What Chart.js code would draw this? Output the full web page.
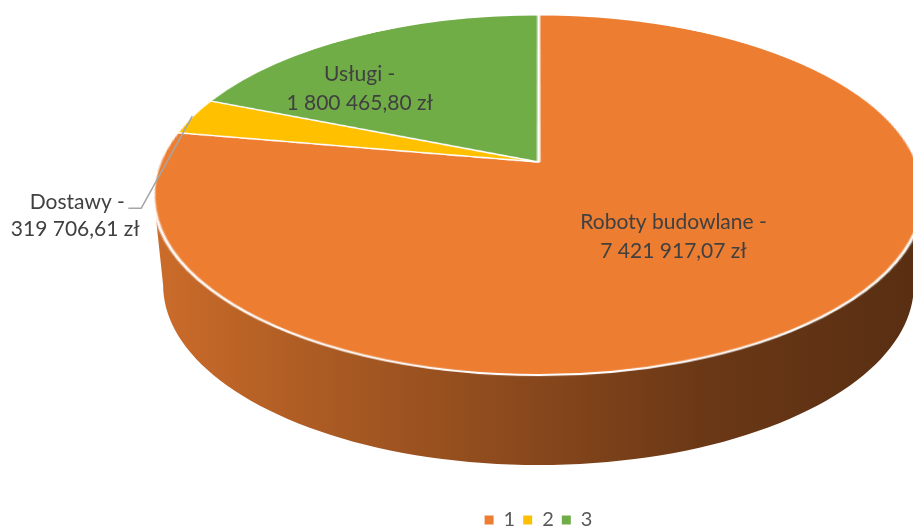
<!DOCTYPE html>
<html>
<head>
<meta charset="utf-8">
<script src="https://cdn.jsdelivr.net/npm/chart.js@4.4.0/dist/chart.umd.min.js"></script>
<style>
  html, body { margin: 0; padding: 0; background: #fff; overflow: hidden; }
  #wrap { width: 913px; height: 532px; }
</style>
</head>
<body>
<div id="wrap"><canvas id="pie" width="913" height="532"></canvas></div>
<script>
// data
const categories = ["1", "2", "3"];
const sliceNames = ["Roboty budowlane", "Dostawy", "Usługi"];
const amounts = [7421917.07, 319706.61, 1800465.80];
const sliceColours = ["#ED7D31", "#FFC000", "#70AD47"];

// look of the tilted 3-D pie (screen px)
const view = { apexY: 162, A: 378.5, B: 174, p: 0.1833, depth: 90, baseScale: 0.975 };
// side wall shading, left -> right, as a fraction of the slice colour
const sideShade = [[0, 0.86], [0.19, 0.74], [0.5, 0.57], [0.71, 0.45], [1, 0.37]];

function formatZl(v) {
  const [int, dec] = v.toFixed(2).split(".");
  return int.replace(/\B(?=(\d{3})+(?!\d))/g, " ") + "," + dec + " zł";
}

function shade(hex, f) {
  const n = parseInt(hex.slice(1), 16);
  const r = Math.round(((n >> 16) & 255) * f), g = Math.round(((n >> 8) & 255) * f), b = Math.round((n & 255) * f);
  return `rgb(${r},${g},${b})`;
}

// u, v : point on the flat unit pie (v down)
function project(cx, u, v, drop = 0, kx = 1) {
  const d = 1 - view.p * v;
  return { x: cx + kx * view.A * u / d, y: view.apexY + drop + view.B * v / d };
}

// Chart.js draws a flat pie, this plugin tilts it and adds the side wall
const pie3d = {
  id: "pie3d",
  afterDatasetsDraw(chart) {
    const arcs = chart.getDatasetMeta(0).data;
    if (!arcs.length) return;
    const { x: cx0, y: cy0, outerRadius: R } = arcs[0].getProps(["x", "y", "outerRadius"], true);
    const ctx = chart.ctx;
    const pad = 4;
    const sx = Math.floor(cx0 - R - pad), sy = Math.floor(cy0 - R - pad);
    const sw = Math.ceil(2 * R + 2 * pad), sh = sw;

    const off = document.createElement("canvas");
    off.width = sw; off.height = sh;
    off.getContext("2d").drawImage(chart.canvas, sx, sy, sw, sh, 0, 0, sw, sh);

    ctx.save();
    ctx.setTransform(1, 0, 0, 1, 0, 0);
    ctx.clearRect(sx, sy, sw, sh);

    const cx = cx0;

    // side wall (front part only)
    const lo = Math.asin(view.p), hi = Math.PI - lo;
    arcs.forEach((arc, i) => {
      const { startAngle, endAngle } = arc.getProps(["startAngle", "endAngle"], true);
      for (const shift of [-2 * Math.PI, 0, 2 * Math.PI]) {
        const a0 = Math.max(startAngle + shift, lo), a1 = Math.min(endAngle + shift, hi);
        if (a1 <= a0) continue;
        const steps = 90;
        ctx.beginPath();
        for (let k = 0; k <= steps; k++) {
          const a = a0 + (a1 - a0) * k / steps;
          const q = project(cx, Math.cos(a), Math.sin(a));
          k ? ctx.lineTo(q.x, q.y) : ctx.moveTo(q.x, q.y);
        }
        for (let k = steps; k >= 0; k--) {
          const a = a0 + (a1 - a0) * k / steps;
          const q = project(cx, Math.cos(a), Math.sin(a), view.depth, view.baseScale);
          ctx.lineTo(q.x, q.y);
        }
        ctx.closePath();
        const g = ctx.createLinearGradient(cx - view.A * 1.02, 0, cx + view.A * 1.02, 0);
        sideShade.forEach(([s, f]) => g.addColorStop(s, shade(sliceColours[i], f)));
        ctx.fillStyle = g;
        ctx.fill();
      }
    });

    // top face, row by row
    const vAt = y => (y - view.apexY) / (view.B + view.p * (y - view.apexY));
    const yTop = Math.floor(view.apexY - view.B / (1 + view.p) - 4);
    const yBot = Math.ceil(view.apexY + view.B / (1 - view.p) + 4);
    for (let y = yTop; y < yBot; y++) {
      const v0 = vAt(y), v1 = vAt(y + 1), vm = (v0 + v1) / 2;
      let s0 = (cy0 - sy) + v0 * R, s1 = (cy0 - sy) + v1 * R;
      if (s1 <= 0 || s0 >= sh) continue;
      s0 = Math.max(0, s0); s1 = Math.min(sh, s1);
      const scale = view.A / R / (1 - view.p * vm);
      const left = cx + (sx - cx0) * scale;
      ctx.drawImage(off, 0, s0, sw, s1 - s0, left, y, sw * scale, 1);
    }
    ctx.restore();
  },

  afterDraw(chart) {
    const arcs = chart.getDatasetMeta(0).data;
    const ctx = chart.ctx;
    const cx = arcs[0].x;
    ctx.save();
    ctx.font = "21px Lato";
    ctx.fillStyle = "#404040";
    ctx.textAlign = "center";
    ctx.textBaseline = "middle";

    arcs.forEach((arc, i) => {
      const mid = (arc.startAngle + arc.endAngle) / 2;
      const lines = [sliceNames[i] + " -", formatZl(amounts[i])];
      const place = labelPlace[i];
      if (place.outside) {
        const a = project(cx, Math.cos(mid), Math.sin(mid));
        const elbow = { x: a.x - 51, y: a.y + 92 };
        ctx.strokeStyle = "#a6a6a6";
        ctx.lineWidth = 1.5;
        ctx.beginPath();
        ctx.moveTo(a.x, a.y);
        ctx.lineTo(elbow.x, elbow.y);
        ctx.lineTo(elbow.x - 13, elbow.y);
        ctx.stroke();
        const tx = elbow.x - 66;
        ctx.fillText(lines[0], tx + 2, elbow.y - 6);
        ctx.fillText(lines[1], tx, elbow.y + 21);
      } else {
        const ang = mid + place.da * Math.PI / 180;
        const q = project(cx, place.r * Math.cos(ang), place.r * Math.sin(ang));
        ctx.fillText(lines[0], q.x, q.y - 14);
        ctx.fillText(lines[1], q.x, q.y + 15);
      }
    });
    ctx.restore();
  }
};

const labelPlace = [
  { r: 0.515, da: 0 },
  { outside: true },
  { r: 0.69, da: -14 }
];

new Chart(document.getElementById("pie"), {
  type: "pie",
  data: {
    labels: categories,
    datasets: [{
      data: amounts,
      backgroundColor: sliceColours,
      borderColor: "#ffffff",
      borderWidth: 2,
      hoverOffset: 0
    }]
  },
  options: {
    responsive: false,
    animation: false,
    layout: { padding: { left: 164, right: 0, top: 0, bottom: -8 } },
    plugins: {
      tooltip: { enabled: false },
      legend: {
        position: "bottom",
        labels: {
          font: { family: "Lato", size: 20 },
          color: "#595959",
          boxWidth: 9,
          boxHeight: 9,
          padding: 8,
          generateLabels: (chart) =>
            Chart.overrides.pie.plugins.legend.labels.generateLabels(chart)
              .map(l => ({ ...l, lineWidth: 0 }))
        }
      }
    }
  },
  plugins: [pie3d]
});
</script>
</body>
</html>
